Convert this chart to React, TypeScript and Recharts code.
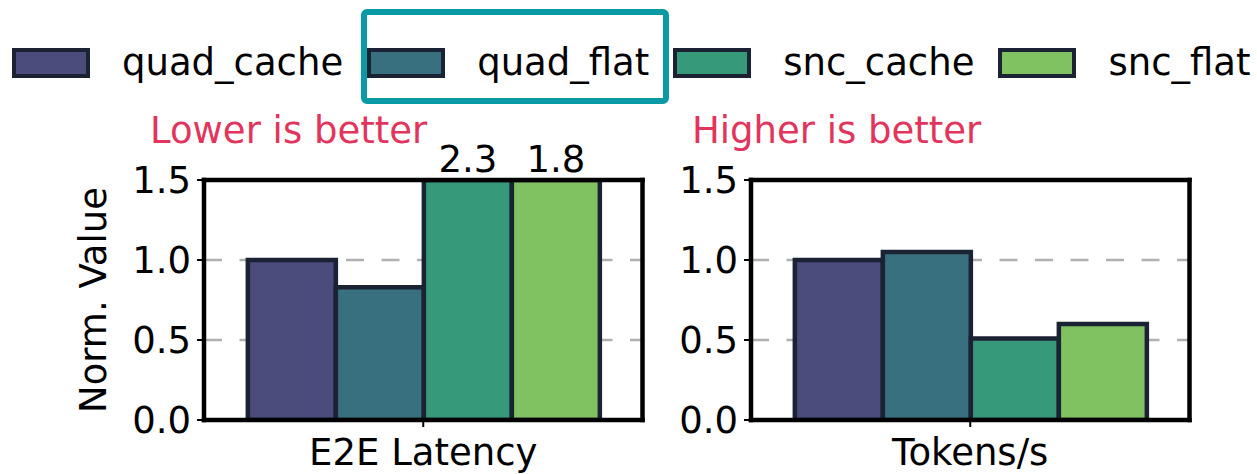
import { BarChart, Bar, XAxis, YAxis, CartesianGrid, LabelList } from 'recharts'

const series = ['quad_cache', 'quad_flat', 'snc_cache', 'snc_flat']
const colors = ['#4b4b7c', '#38707f', '#35997a', '#80c261']
const yTicks = [0, 0.5, 1.0, 1.5]
const gridValues = [0.5, 1.0]
const latencyValues = [1.0, 0.83, 2.3, 1.8]
const tokensValues = [1.0, 1.05, 0.51, 0.6]
const Y_MAX = 1.5

const FONT = "'DejaVu Sans', sans-serif"
const EDGE = '#1b2233'
const NOTE = '#e2345c'
const HILITE = '#0a9aa6'
const FS = 37

const spine = { stroke: '#000', strokeWidth: 4.5, strokeLinecap: 'square' as const }
const tickStyle = { fontSize: FS, fill: '#000', fontFamily: FONT }

function buildRow(name: string, values: number[]) {
  const row: Record<string, any> = { name }
  series.forEach((s, i) => {
    row[s] = Math.min(values[i], Y_MAX)
    row['raw_' + s] = values[i]
  })
  return [row]
}

function OverflowLabel(props: any) {
  const { x, y, width, value } = props
  if (value == null || value <= Y_MAX) return null
  return (
    <text x={x + width / 2} y={y - 8} textAnchor="middle" fontSize={FS} fontFamily={FONT} fill="#000">
      {Number(value).toFixed(1)}
    </text>
  )
}

function Panel({ name, values, left, width, axisWidth, right }: any) {
  const data = buildRow(name, values)
  return (
    <div style={{ position: 'absolute', left, top: 0 }}>
      <BarChart
        width={width}
        height={474}
        data={data}
        margin={{ top: 179, right: right - 1, bottom: 0, left: 0 }}
        barGap={0}
        barCategoryGap="10%"
      >
        <CartesianGrid
          vertical={false}
          horizontalValues={gridValues}
          stroke="#b0b0b0"
          strokeWidth={2.7}
          strokeDasharray="18 17.5"
        />
        <XAxis
          dataKey="name"
          height={54}
          tick={tickStyle}
          tickSize={7}
          tickMargin={12}
          tickLine={{ stroke: '#000', strokeWidth: 2 }}
          axisLine={spine}
        />
        <XAxis
          xAxisId="top"
          dataKey="name"
          orientation="top"
          height={1}
          tick={false}
          tickLine={false}
          axisLine={spine}
        />
        <YAxis
          domain={[0, Y_MAX]}
          ticks={yTicks}
          allowDataOverflow
          width={axisWidth}
          tick={tickStyle}
          tickSize={7}
          tickMargin={6}
          tickFormatter={(v: number) => v.toFixed(1)}
          tickLine={{ stroke: '#000', strokeWidth: 2 }}
          axisLine={spine}
        />
        <YAxis
          yAxisId="right"
          orientation="right"
          domain={[0, Y_MAX]}
          width={1}
          tick={false}
          tickLine={false}
          axisLine={spine}
        />
        {series.map((s, i) => (
          <Bar key={s} dataKey={s} fill={colors[i]} stroke={EDGE} strokeWidth={4.5} isAnimationActive={false}>
            <LabelList dataKey={'raw_' + s} content={OverflowLabel} />
          </Bar>
        ))}
      </BarChart>
    </div>
  )
}

function Legend() {
  return (
    <div
      style={{
        position: 'absolute',
        left: 12,
        top: 48,
        height: 30,
        display: 'flex',
        alignItems: 'center',
        fontFamily: FONT,
        fontSize: FS,
        whiteSpace: 'nowrap',
      }}
    >
      {series.map((s, i) => (
        <div key={s} style={{ display: 'flex', alignItems: 'center', marginRight: 24 }}>
          <span
            style={{
              display: 'inline-block',
              width: 70,
              height: 22,
              background: colors[i],
              border: `4px solid ${EDGE}`,
              marginRight: 32,
            }}
          />
          <span style={{ lineHeight: '30px', color: '#000' }}>{s}</span>
        </div>
      ))}
    </div>
  )
}

export default function App() {
  return (
    <div style={{ position: 'absolute', left: 0, top: 0, width: 1257, height: 474, background: '#fff', overflow: 'hidden' }}>
      <Panel name="E2E Latency" values={latencyValues} left={0} width={660} axisWidth={204} right={17.5} />
      <Panel name="Tokens/s" values={tokensValues} left={660} width={597} axisWidth={91} right={67.5} />
      <Legend />
      <svg width={1257} height={474} style={{ position: 'absolute', left: 0, top: 0, pointerEvents: 'none' }}>
        <rect x={364} y={12} width={302} height={89} rx={3} fill="none" stroke={HILITE} strokeWidth={6} />
        <text x={150} y={143} fontSize={FS} fontFamily={FONT} fill={NOTE}>Lower is better</text>
        <text x={692} y={143} fontSize={FS} fontFamily={FONT} fill={NOTE}>Higher is better</text>
        <text
          transform="translate(106,300) rotate(-90)"
          textAnchor="middle"
          fontSize={FS}
          fontFamily={FONT}
          fill="#000"
        >
          Norm. Value
        </text>
      </svg>
    </div>
  )
}
